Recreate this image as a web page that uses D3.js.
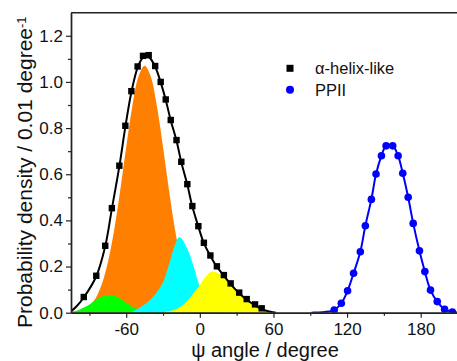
<!DOCTYPE html>
<html><head><meta charset="utf-8">
<script src="https://cdn.jsdelivr.net/npm/d3@7"></script>
<style>
html,body{margin:0;padding:0;background:#fff;}
svg{display:block;font-family:"Liberation Sans",Arial,sans-serif;}
</style></head>
<body><svg id="c" width="457" height="361"></svg>
<script>
// ---- data ----
const xTicks = [-60, 0, 60, 120, 180];
const xMinorTicks = [-90, -30, 30, 90, 150, 210];
const yTicks = [0, 0.2, 0.4, 0.6, 0.8, 1.0, 1.2];
const yMinorTicks = [0.1, 0.3, 0.5, 0.7, 0.9, 1.1];

// alpha-helix-like data points (squares)
const helixX = [-94.6, -84.4, -77.1, -71.7, -65.6, -60.7, -55.8, -50.7, -46.3, -41.7, -36.4, -31.9, -27.8, -23.7, -19.0, -15.1, -10.2, -6.1, -1.2, 3.3, 8.6, 13.9, 19.6, 25.1, 32.1, 38.2, 45.0, 50.4];
const helixY = [0.068, 0.160, 0.290, 0.453, 0.637, 0.810, 0.960, 1.067, 1.113, 1.116, 1.069, 1.000, 0.924, 0.835, 0.748, 0.654, 0.557, 0.462, 0.375, 0.303, 0.248, 0.201, 0.163, 0.127, 0.087, 0.059, 0.036, 0.019];
// fitted black curve
const helixFitX = [-105, -100.8, -94.6, -84.4, -77.1, -71.7, -65.6, -60.7, -55.8, -50.7, -46.3, -41.7, -36.4, -31.9, -27.8, -23.7, -19.0, -15.1, -10.2, -6.1, -1.2, 3.3, 8.6, 13.9, 19.6, 25.1, 32.1, 38.2, 45.0, 50.4, 55, 60, 62];
const helixFitY = [0.006, 0.026, 0.066, 0.158, 0.288, 0.450, 0.634, 0.805, 0.955, 1.062, 1.105, 1.108, 1.066, 0.998, 0.922, 0.833, 0.745, 0.652, 0.555, 0.460, 0.373, 0.301, 0.246, 0.199, 0.160, 0.124, 0.084, 0.056, 0.032, 0.016, 0.007, 0.002, 0];

// Gaussian components (filled)
const orangeX = [-105, -100, -95, -90, -85, -80, -75, -70, -65, -60, -55, -50, -45, -40, -35, -30, -25, -20, -15, -10, -5, 0, 5, 10, 15];
const orangeY = [0.002, 0.005, 0.013, 0.030, 0.063, 0.122, 0.217, 0.353, 0.526, 0.718, 0.896, 1.024, 1.070, 1.024, 0.896, 0.718, 0.526, 0.353, 0.217, 0.122, 0.063, 0.030, 0.013, 0.005, 0.002];
const greenX = [-105, -100, -95, -90, -85, -80, -75, -70, -65, -60, -55, -50, -45, -40, -35, -30];
const greenY = [0.005, 0.010, 0.021, 0.036, 0.054, 0.069, 0.077, 0.073, 0.061, 0.043, 0.026, 0.014, 0.006, 0.0025, 0.001, 0];
const cyanX = [-55, -50, -45, -40, -35, -30, -25, -20, -17, -15, -10, -5, 0, 5, 10, 15, 20, 25];
const cyanY = [0.006, 0.018, 0.035, 0.058, 0.090, 0.132, 0.212, 0.298, 0.327, 0.322, 0.275, 0.200, 0.112, 0.060, 0.030, 0.012, 0.004, 0];
const yellowX = [-30, -25, -20, -15, -10, -5, 0, 5, 10, 15, 20, 25, 30, 35, 40, 45, 50, 55, 60, 65];
const yellowY = [0.002, 0.006, 0.014, 0.028, 0.052, 0.085, 0.120, 0.158, 0.178, 0.172, 0.150, 0.122, 0.094, 0.068, 0.046, 0.029, 0.016, 0.007, 0.002, 0];

// PPII data points (circles)
const ppiiX = [109.5, 115.3, 120.4, 125.3, 130.8, 134.9, 139.8, 143.6, 148.0, 151.8, 157.2, 161.6, 165.4, 169.8, 173.9, 179.0, 183.4, 188.0, 193.5, 199.5, 205.8];
const ppiiY = [0.012, 0.041, 0.095, 0.171, 0.264, 0.377, 0.491, 0.601, 0.680, 0.723, 0.723, 0.680, 0.604, 0.500, 0.387, 0.268, 0.178, 0.098, 0.048, 0.015, 0.003];
const ppiiFitX = [91, 95, 100, 105, 109.5, 115.3, 120.4, 125.3, 130.8, 134.9, 139.8, 143.6, 148.0, 151.8, 157.2, 161.6, 165.4, 169.8, 173.9, 179.0, 183.4, 188.0, 193.5, 199.5, 205.8, 210];
const ppiiFitY = [0, 0.001, 0.002, 0.005, 0.012, 0.041, 0.095, 0.171, 0.264, 0.377, 0.491, 0.601, 0.680, 0.723, 0.723, 0.680, 0.604, 0.500, 0.387, 0.268, 0.178, 0.098, 0.048, 0.015, 0.003, 0.001];

const legendLabels = ["\u03b1-helix-like", "PPII"];

// ---- drawing ----
const svg = d3.select("#c");
const x = d3.scaleLinear().domain([-105, 210]).range([71, 457.5]);
const y = d3.scaleLinear().domain([0, 1.3]).range([312.7, 12.7]);
const zip = (a, b) => a.map((v, i) => [v, b[i]]);

const plot = svg.append("g");
const clip = svg.append("clipPath").attr("id", "pc").append("rect")
  .attr("x", x(-105)).attr("y", y(1.3)).attr("width", x(210) - x(-105)).attr("height", y(0) - y(1.3));
plot.attr("clip-path", "url(#pc)");

const area = d3.area().x(d => x(d[0])).y0(y(0)).y1(d => y(d[1])).curve(d3.curveCatmullRom);
plot.append("path").datum(zip(orangeX, orangeY)).attr("d", area).attr("fill", "#ff8000");
plot.append("path").datum(zip(greenX, greenY)).attr("d", area).attr("fill", "#00ff00");
plot.append("path").datum(zip(cyanX, cyanY)).attr("d", area).attr("fill", "#00ffff");
plot.append("path").datum(zip(yellowX, yellowY)).attr("d", area).attr("fill", "#ffff00");

const line = d3.line().x(d => x(d[0])).y(d => y(d[1])).curve(d3.curveCatmullRom);
plot.append("path").datum(zip(helixFitX, helixFitY)).attr("d", line)
  .attr("fill", "none").attr("stroke", "#000").attr("stroke-width", 2);
plot.append("path").datum(zip(ppiiFitX, ppiiFitY)).attr("d", line)
  .attr("fill", "none").attr("stroke", "#0000ff").attr("stroke-width", 2);

const sq = 6.4;
plot.selectAll("rect.h").data(zip(helixX, helixY)).enter().append("rect")
  .attr("x", d => x(d[0]) - sq / 2).attr("y", d => y(d[1]) - sq / 2)
  .attr("width", sq).attr("height", sq).attr("fill", "#000");
plot.selectAll("circle.p").data(zip(ppiiX, ppiiY)).enter().append("circle")
  .attr("cx", d => x(d[0])).attr("cy", d => y(d[1])).attr("r", 3.8).attr("fill", "#0000ff");

// axes
const axisColor = "#222";
const gx = svg.append("g").attr("transform", `translate(0,${y(0)})`)
  .call(d3.axisBottom(x).tickValues(xTicks).tickFormat(d => String(d)).tickSize(5).tickSizeOuter(0).tickPadding(5));
const gxm = svg.append("g").attr("transform", `translate(0,${y(0)})`)
  .call(d3.axisBottom(x).tickValues(xMinorTicks).tickFormat("").tickSize(3).tickSizeOuter(0));
const gy = svg.append("g").attr("transform", `translate(${x(-105)},0)`)
  .call(d3.axisLeft(y).tickValues(yTicks).tickFormat(d3.format(".1f")).tickSize(5).tickSizeOuter(0).tickPadding(3));
const gym = svg.append("g").attr("transform", `translate(${x(-105)},0)`)
  .call(d3.axisLeft(y).tickValues(yMinorTicks).tickFormat("").tickSize(3).tickSizeOuter(0));
[gx, gxm, gy, gym].forEach(g => {
  g.select(".domain").attr("stroke", axisColor).attr("stroke-width", 1.4);
  g.selectAll(".tick line").attr("stroke", axisColor).attr("stroke-width", 1.2);
  g.selectAll(".tick text").attr("fill", "#111").style("font-size", "17px")
    .style("font-family", '"Liberation Sans", Arial, sans-serif');
});
// top frame line
svg.append("line").attr("x1", x(-105)).attr("x2", 457).attr("y1", y(1.3)).attr("y2", y(1.3))
  .attr("stroke", axisColor).attr("stroke-width", 1.4);

// axis titles
svg.append("text").attr("x", 265).attr("y", 356.8).attr("text-anchor", "middle")
  .style("font-size", "20px").attr("fill", "#111").text("\u03c8 angle / degree");
const yt = svg.append("text").attr("transform", "translate(32,328) rotate(-90)")
  .attr("text-anchor", "start").style("font-size", "21px").attr("fill", "#111");
yt.append("tspan").text("Probability density / 0.01 degree");
yt.append("tspan").attr("dy", "-0.45em").style("font-size", "13px").text("-1");

// legend
const lg = svg.append("g");
lg.append("rect").attr("x", 290 - 3.5).attr("y", 68.3 - 3.5).attr("width", 7).attr("height", 7).attr("fill", "#000");
lg.append("circle").attr("cx", 290).attr("cy", 89.7).attr("r", 4).attr("fill", "#0000ff");
lg.selectAll("text").data(legendLabels).enter().append("text")
  .attr("x", 315).attr("y", (d, i) => 74 + i * 21.5)
  .style("font-size", "16.5px").attr("fill", "#111").text(d => d);
</script></body></html>
